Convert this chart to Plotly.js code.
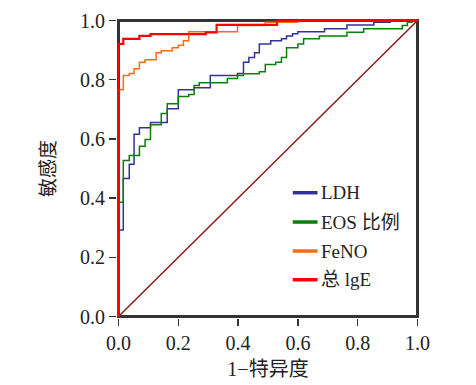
<!DOCTYPE html>
<html>
<head>
<meta charset="utf-8">
<script src="https://cdn.plot.ly/plotly-3.0.1.min.js"></script>
<style>html,body{margin:0;padding:0;background:#fff;}#chart{width:476px;height:385px;}</style>
</head>
<body>
<div id="chart"></div>
<script>
// ROC step curves: each point (x, y) = at false-positive rate x the sensitivity rises to y
const seriesNames = ["LDH", "EOS 比例", "FeNO", "总 lgE"];
const seriesColors = ["#333399", "#0a800a", "#ff6a13", "#ff0000"];

const ldhX = [0, 0, 0.016, 0.036, 0.052, 0.070, 0.107, 0.163, 0.200, 0.253, 0.307, 0.398, 0.418, 0.436, 0.455, 0.471, 0.509, 0.545, 0.562, 0.582, 0.600, 0.689, 0.764, 0.854, 0.909, 1.0];
const ldhY = [0, 0.292, 0.466, 0.514, 0.616, 0.638, 0.655, 0.702, 0.766, 0.773, 0.814, 0.821, 0.859, 0.875, 0.891, 0.921, 0.932, 0.938, 0.948, 0.955, 0.962, 0.972, 0.985, 0.994, 1.0, 1.0];

const eosX = [0, 0, 0.016, 0.036, 0.070, 0.089, 0.107, 0.143, 0.163, 0.200, 0.235, 0.253, 0.270, 0.364, 0.398, 0.418, 0.471, 0.491, 0.526, 0.545, 0.562, 0.600, 0.619, 0.672, 0.764, 0.820, 0.949, 0.966, 0.982, 1.0];
const eosY = [0, 0.386, 0.527, 0.544, 0.575, 0.598, 0.648, 0.686, 0.719, 0.743, 0.750, 0.780, 0.790, 0.804, 0.814, 0.820, 0.827, 0.851, 0.859, 0.875, 0.908, 0.921, 0.938, 0.948, 0.960, 0.972, 0.983, 0.994, 1.0, 1.0];

const fenoX = [0, 0, 0.016, 0.036, 0.052, 0.070, 0.089, 0.126, 0.143, 0.180, 0.200, 0.217, 0.235, 0.398, 0.491, 0.600, 1.0];
const fenoY = [0, 0.766, 0.814, 0.821, 0.837, 0.859, 0.867, 0.891, 0.898, 0.908, 0.916, 0.932, 0.962, 0.983, 0.994, 1.0, 1.0];

const igeX = [0, 0, 0.016, 0.070, 0.107, 0.292, 0.328, 0.530, 1.0];
const igeY = [0, 0.921, 0.938, 0.948, 0.954, 0.960, 0.985, 1.0, 1.0];

const refX = [0, 1];
const refY = [0, 1];

const tickVals = [0, 0.2, 0.4, 0.6, 0.8, 1.0];
const tickText = ["0.0", "0.2", "0.4", "0.6", "0.8", "1.0"];
const xTitle = "1−特异度";
const yTitle = "敏感度";

const serif = "'Liberation Serif', 'Times New Roman', 'Noto Sans CJK SC', serif";

const curves = [[ldhX, ldhY], [eosX, eosY], [fenoX, fenoY], [igeX, igeY]];

const traces = [{
  x: refX, y: refY, type: "scatter", mode: "lines",
  line: {color: "#8b1a1a", width: 1.5}, showlegend: false, hoverinfo: "skip"
}];
curves.forEach((c, i) => {
  traces.push({
    x: c[0], y: c[1], type: "scatter", mode: "lines", name: seriesNames[i],
    line: {color: seriesColors[i], width: i === 3 ? 2.2 : 1.5, shape: "hv"},
    showlegend: false
  });
});

// frame drawn beneath the curves (curves lying on the border cover it, as in the reference)
const shapes = [{
  type: "rect", xref: "x", yref: "y", x0: 0, x1: 1, y0: 0, y1: 1, layer: "below",
  line: {color: "#333", width: 3}, fillcolor: "rgba(0,0,0,0)"
}];

// custom legend (thick swatches like the reference)
const legX0 = 0.582, legX1 = 0.664, legTextX = 0.668;
const legY = [0.419, 0.321, 0.224, 0.128];
const annotations = [];
seriesNames.forEach((n, i) => {
  shapes.push({type: "line", xref: "paper", yref: "paper", x0: legX0, x1: legX1, y0: legY[i], y1: legY[i],
    line: {color: seriesColors[i], width: 3.5}});
  annotations.push({xref: "paper", yref: "paper", x: legTextX, y: legY[i], xanchor: "left", yanchor: "middle",
    text: n, showarrow: false, font: {family: serif, size: 19, color: "#222"}});
});

const padX = 1.5 / 299, padY = 1.5 / 296;
const axisCommon = {
  tickvals: tickVals, ticktext: tickText,
  ticks: "outside", ticklen: 7, tickwidth: 1.5, tickcolor: "#333",
  showline: false, showgrid: false, zeroline: false,
  tickfont: {family: serif, size: 20, color: "#222"}
};

const layout = {
  width: 476, height: 385,
  margin: {l: 117, r: 57, t: 19, b: 67},
  paper_bgcolor: "#fff", plot_bgcolor: "#fff",
  xaxis: Object.assign({}, axisCommon, {range: [-padX, 1 + padX],
    title: {text: xTitle, font: {family: serif, size: 20, color: "#222"}, standoff: 8}}),
  yaxis: Object.assign({}, axisCommon, {range: [-padY, 1 + padY],
    title: {text: yTitle, font: {family: serif, size: 19, color: "#222"}, standoff: 19}}),
  shapes: shapes, annotations: annotations,
  showlegend: false
};

Plotly.newPlot("chart", traces, layout, {displayModeBar: false, staticPlot: true});
</script>
</body>
</html>
